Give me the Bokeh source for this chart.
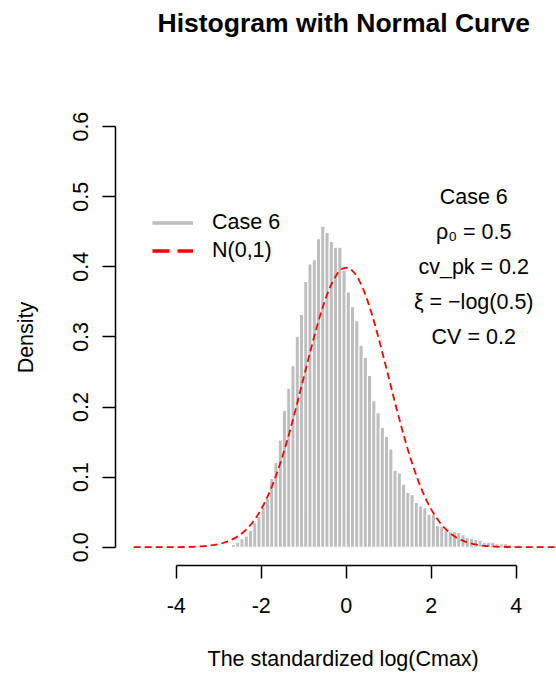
from bokeh.plotting import figure
from bokeh.models import (FixedTicker, PrintfTickFormatter, Legend, LegendItem,
                          Title, Range1d, LinearAxis)
from bokeh.embed import file_html
from bokeh.resources import INLINE
from bokeh.core.properties import value

# ---------------- data ----------------
bin_start = -2.7
bin_width = 0.1
density = [0.004, 0.007, 0.012, 0.016, 0.024, 0.035, 0.044, 0.057, 0.070, 0.098,
           0.121, 0.153, 0.195, 0.227, 0.259, 0.301, 0.332, 0.379, 0.404, 0.410,
           0.440, 0.458, 0.449, 0.436, 0.428, 0.428, 0.395, 0.364, 0.343, 0.323,
           0.288, 0.271, 0.245, 0.209, 0.192, 0.171, 0.158, 0.140, 0.110, 0.106,
           0.090, 0.078, 0.075, 0.064, 0.059, 0.056, 0.047, 0.047, 0.031, 0.030,
           0.024, 0.022, 0.022, 0.021, 0.018, 0.014, 0.013, 0.011, 0.010, 0.007,
           0.007, 0.007, 0.005, 0.005, 0.005, 0.004, 0.003, 0.003, 0.002]

curve_x = [round(-5 + 0.1 * i, 1) for i in range(101)]
curve_y = [0, 0, 0, 0, 0, 0, 0, 0, 0, 0.0001, 0.0001, 0.0002, 0.0003, 0.0004,
           0.0006, 0.0009, 0.0012, 0.0017, 0.0024, 0.0033, 0.0044, 0.0060, 0.0079,
           0.0104, 0.0136, 0.0175, 0.0224, 0.0283, 0.0355, 0.0440, 0.0540, 0.0656,
           0.0790, 0.0940, 0.1109, 0.1295, 0.1497, 0.1714, 0.1942, 0.2179, 0.2420,
           0.2661, 0.2897, 0.3123, 0.3332, 0.3521, 0.3683, 0.3814, 0.3910, 0.3970,
           0.3989,
           0.3970, 0.3910, 0.3814, 0.3683, 0.3521, 0.3332, 0.3123, 0.2897, 0.2661,
           0.2420, 0.2179, 0.1942, 0.1714, 0.1497, 0.1295, 0.1109, 0.0940, 0.0790,
           0.0656, 0.0540, 0.0440, 0.0355, 0.0283, 0.0224, 0.0175, 0.0136, 0.0104,
           0.0079, 0.0060, 0.0044, 0.0033, 0.0024, 0.0017, 0.0012, 0.0009, 0.0006,
           0.0004, 0.0003, 0.0002, 0.0001, 0.0001, 0, 0, 0, 0, 0, 0, 0, 0, 0]

x_ticks = [-4, -2, 0, 2, 4]
y_ticks = [0.0, 0.1, 0.2, 0.3, 0.4, 0.5, 0.6]
legend_labels = ["Case 6", "N(0,1)"]
info_lines = ["Case 6", "ρ₀ = 0.5", "cv_pk = 0.2", "ξ = −log(0.5)", "CV = 0.2"]
info_y = [0.5, 0.45, 0.4, 0.35, 0.3]

title_text = "Histogram with Normal Curve"
xlabel_text = "The standardized log(Cmax)"
ylabel_text = "Density"

# ---------------- figure ----------------
FONT = "Liberation Sans"
FS = "21.5px"

left_edges = [round(bin_start + bin_width * i, 1) for i in range(len(density))]
right_edges = [round(l + bin_width, 1) for l in left_edges]

p = figure(width=556, height=677, output_backend="svg", toolbar_location=None,
           x_range=Range1d(-5.428, 4.948), y_range=Range1d(-0.0261, 0.6244),
           min_border_left=115, min_border_right=0, min_border_top=109,
           min_border_bottom=112, outline_line_color=None,
           background_fill_color="white", border_fill_color="white")
p.grid.visible = False

# keep references to the real axes before any spacer is added
xax = p.xaxis[0]
yax = p.yaxis[0]


def spacer(size):
    """An invisible axis used only to reserve room in a side panel."""
    return LinearAxis(ticker=FixedTicker(ticks=[-5]), axis_line_color=None,
                      major_tick_line_color="white", minor_tick_line_color=None,
                      major_tick_in=0, major_tick_out=size, minor_tick_out=0,
                      major_label_standoff=0, major_label_text_font_size="0px",
                      major_label_overrides={-5: ""})


p.add_layout(spacer(64), "above")

p.title.text = title_text
p.title.text_font = FONT
p.title.text_font_size = "26.5px"
p.title.text_font_style = "bold"
p.title.align = "left"
p.title.offset = 42
p.title.vertical_align = "top"
p.title.standoff = 12
p.title.text_color = "black"

p.quad(left=left_edges, right=right_edges, bottom=0, top=density,
       fill_color="#BEBEBE", line_color="white", line_width=1.1)

p.line(curve_x, curve_y, line_color="red", line_width=1.8, line_dash="7 4")

p.text(x=[3] * len(info_lines), y=info_y, text=info_lines,
       text_align="center", text_baseline="middle",
       text_font=value(FONT), text_font_size=value(FS), text_color="black")

# legend (dummy renderers with no drawable points carry the legend styling)
nan = float("nan")
r1 = p.line(x=[nan], y=[nan], line_color="#BEBEBE", line_width=3.5)
r2 = p.line(x=[nan], y=[nan], line_color="red", line_width=3.5, line_dash="17 8")
legend = Legend(items=[LegendItem(label=legend_labels[0], renderers=[r1]),
                       LegendItem(label=legend_labels[1], renderers=[r2])],
                location=(37, 302), border_line_color=None,
                background_fill_alpha=0, padding=0, margin=0, spacing=3,
                glyph_width=41, glyph_height=25, label_height=25,
                label_standoff=19, label_text_font=FONT,
                label_text_font_size=FS, label_text_baseline="middle",
                label_text_color="black")
p.add_layout(legend)

# axes
for ax, ticks, fmt in ((xax, x_ticks, "%d"), (yax, y_ticks, "%.1f")):
    ax.ticker = FixedTicker(ticks=ticks)
    ax.formatter = PrintfTickFormatter(format=fmt)
    ax.bounds = (min(ticks), max(ticks))
    ax.minor_tick_line_color = None
    ax.major_tick_in = 0
    ax.major_tick_out = 13
    ax.major_tick_line_width = 1.5
    ax.axis_line_width = 1.5
    ax.axis_line_color = "black"
    ax.major_tick_line_color = "black"
    ax.major_label_text_font = FONT
    ax.major_label_text_font_size = FS
    ax.major_label_text_color = "black"

xax.major_label_standoff = 19
yax.major_label_standoff = 14
yax.major_label_orientation = "vertical"
yax.axis_label = ylabel_text
yax.axis_label_standoff = 33
yax.axis_label_text_font = FONT
yax.axis_label_text_font_size = FS
yax.axis_label_text_font_style = "normal"
yax.axis_label_text_color = "black"

p.add_layout(spacer(30), "below")
p.add_layout(Title(text=xlabel_text, align="left", offset=92, vertical_align="top",
                   standoff=2, text_font=FONT, text_font_size=FS,
                   text_font_style="normal", text_color="black"), "below")

open("out.html", "w").write(file_html(p, INLINE))
